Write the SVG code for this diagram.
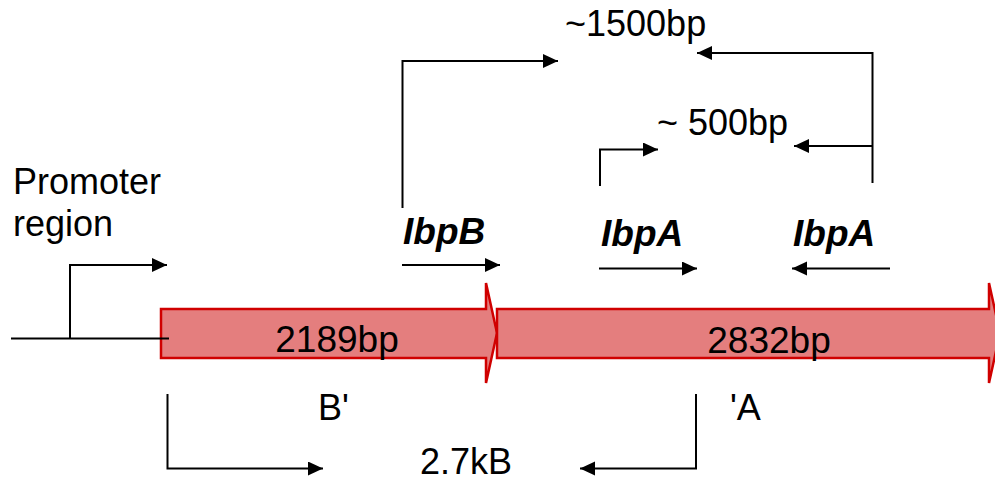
<svg xmlns="http://www.w3.org/2000/svg" width="995" height="483" viewBox="0 0 995 483">
  <style>
    text { font-family: "Liberation Sans", Arial, sans-serif; font-size: 36px; fill: #000; }
    .gene { font-weight: bold; font-style: italic; font-size: 37px; }
    .size { font-size: 37px; }
    .mid { text-anchor: middle; }
    .ln { fill: none; stroke: #000; stroke-width: 2; }
    .arr { fill: none; stroke: #000; stroke-width: 2; marker-end: url(#head); }
    .block { fill: #E47E7E; stroke: #D00000; stroke-width: 2.5; }
  </style>
  <defs>
    <marker id="head" markerUnits="userSpaceOnUse" markerWidth="16" markerHeight="16" refX="15" refY="7" orient="auto">
      <path d="M0,0 L15,7 L0,14 z" fill="#000"/>
    </marker>
  </defs>

  <!-- ibpB coding block -->
  <g id="ibpB-block">
    <polygon class="block" points="161,309 486,309 486,283 497,333 486,383 486,358 161,358"/>
    <text class="mid size" x="337" y="352">2189bp</text>
  </g>

  <!-- ibpA coding block -->
  <g id="ibpA-block">
    <polygon class="block" points="497,309 989,309 989,283 1000,333 989,383 989,358 497,358"/>
    <text class="mid size" x="769" y="353">2832bp</text>
  </g>

  <!-- genomic backbone and promoter (drawn over the block edge) -->
  <g id="promoter">
    <text x="13" y="194">Promoter</text>
    <text x="13" y="236">region</text>
    <line class="ln" x1="11" y1="338.5" x2="169" y2="338.5"/>
    <polyline class="arr" points="70,338.5 70,265 167,265"/>
  </g>

  <!-- primer labels -->
  <g id="ibpB">
    <text class="gene" x="403" y="244">IbpB</text>
  </g>
  <g id="ibpA-fwd">
    <text class="gene" x="601" y="246">IbpA</text>
  </g>
  <g id="ibpA-rev">
    <text class="gene" x="793" y="246">IbpA</text>
  </g>

  <!-- product sizes and fragment labels -->
  <g id="p1500"><text x="565" y="36">~1500bp</text></g>
  <g id="p500"><text x="657" y="135">~ 500bp</text></g>
  <g id="bprime"><text x="318" y="420">B'</text></g>
  <g id="aprime"><text x="730" y="420">'A</text></g>
  <g id="fusion"><text x="420" y="474">2.7kB</text></g>

  <!-- connectors -->
  <g id="connectors">
    <!-- primer arrows -->
    <line class="arr" x1="402" y1="265" x2="500" y2="265"/>
    <line class="arr" x1="599" y1="268.5" x2="697" y2="268.5"/>
    <line class="arr" x1="890" y1="268.5" x2="792" y2="268.5"/>
    <!-- amplicon brackets -->
    <polyline class="arr" points="402.5,208 402.5,61 558,61"/>
    <polyline class="arr" points="872.5,183 872.5,53 697,53"/>
    <line class="arr" x1="872.5" y1="146" x2="794" y2="146"/>
    <polyline class="arr" points="600,186 600,149.5 658,149.5"/>
    <!-- fusion bracket -->
    <polyline class="arr" points="167.5,394 167.5,468.5 323,468.5"/>
    <polyline class="arr" points="696,394 696,468.5 580,468.5"/>
  </g>
</svg>
